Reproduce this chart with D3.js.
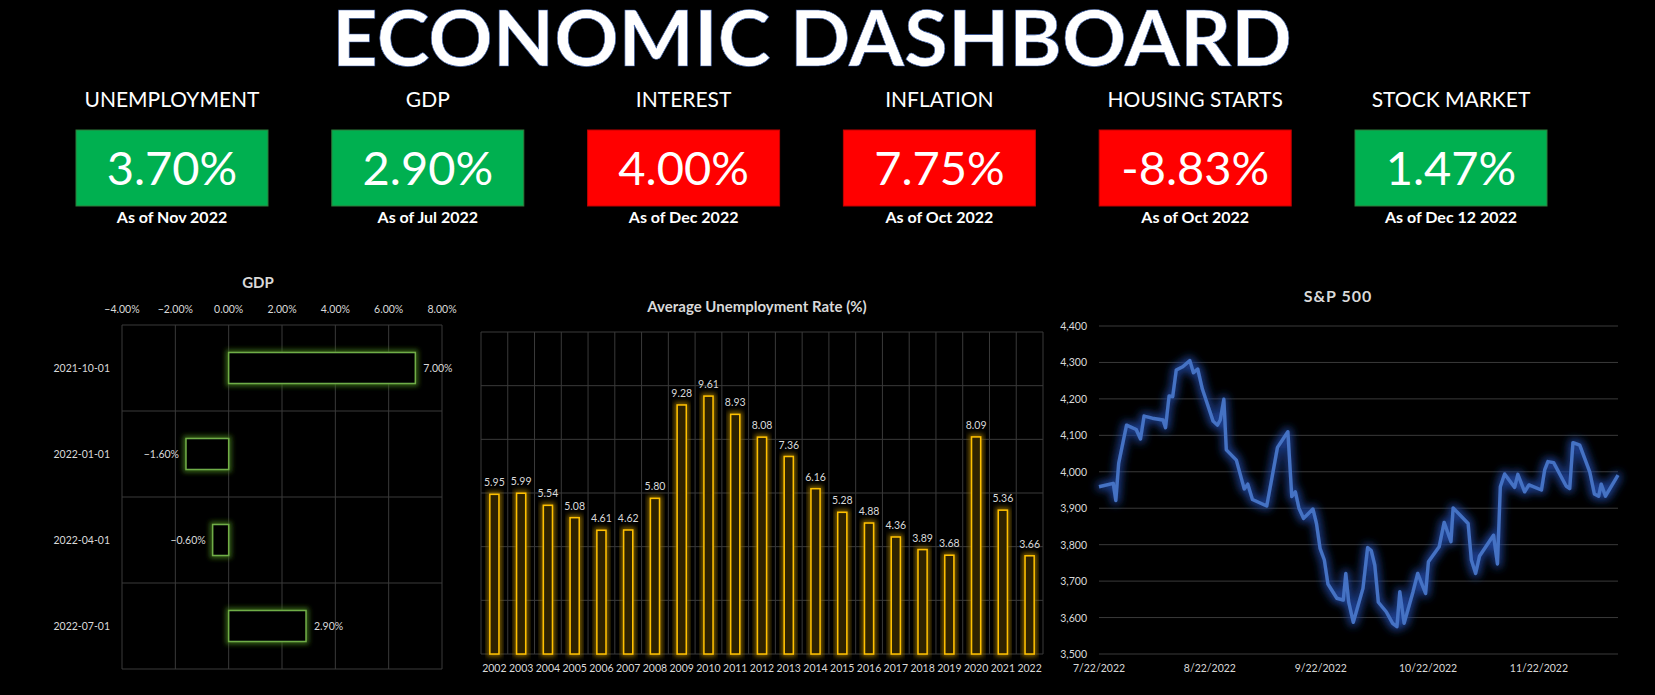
<!DOCTYPE html>
<html>
<head>
<meta charset="utf-8">
<script src="https://cdn.jsdelivr.net/npm/d3@7"></script>
<style>
  body { margin: 0; background: #000; }
  text { font-family: Lato, "Open Sans", sans-serif; }
</style>
</head>
<body>
<svg id="dash" width="1655" height="695"></svg>
<script>
// KPI cards
const kpiLabels = ["UNEMPLOYMENT", "GDP", "INTEREST", "INFLATION", "HOUSING STARTS", "STOCK MARKET"];
const kpiValues = ["3.70%", "2.90%", "4.00%", "7.75%", "-8.83%", "1.47%"];
const kpiGood = [true, true, false, false, false, true];
const kpiAsOf = ["As of Nov 2022", "As of Jul 2022", "As of Dec 2022", "As of Oct 2022", "As of Oct 2022", "As of Dec 12 2022"];

// GDP quarterly growth
const gdpQuarters = ["2021-10-01", "2022-01-01", "2022-04-01", "2022-07-01"];
const gdpValues = [7.0, -1.6, -0.6, 2.9];
const gdpTicks = [-4, -2, 0, 2, 4, 6, 8];

// Average unemployment rate
const unempYears = ["2002","2003","2004","2005","2006","2007","2008","2009","2010","2011","2012","2013","2014","2015","2016","2017","2018","2019","2020","2021","2022"];
const unempValues = [5.95,5.99,5.54,5.08,4.61,4.62,5.80,9.28,9.61,8.93,8.08,7.36,6.16,5.28,4.88,4.36,3.89,3.68,8.09,5.36,3.66];

// S&P 500: days after 7/22/2022 and close
const spDays = [0,4,4.7,5.5,7.7,10.4,11.6,12.6,14.9,17.9,18.6,19.6,20.6,21.6,23.4,25.4,26.4,27.6,28.9,31.9,33.1,33.9,34.9,35.6,38.4,40.6,41.6,42.9,46.9,48.4,49.9,52.8,53.9,54.9,55.9,57.2,59.8,60.8,61.8,63.0,64.0,66.5,68.3,69.0,69.8,71.1,73.8,75.1,76.1,77.1,78.1,80.3,82.1,83.3,84.1,85.3,87.8,89.1,91.3,92.1,95.1,96.5,98.4,99.0,103.2,104.1,105.3,106.4,110.3,111.4,112.2,113.4,116.2,117.1,119.0,120.2,123.7,124.6,125.5,127.1,130.6,131.6,132.5,134.4,137.2,138.5,139.7,140.4,141.6,145.1];
const spValues = [3959,3968,3921,4023,4128,4116,4090,4153,4147,4142,4121,4208,4206,4279,4288,4305,4272,4282,4227,4139,4128,4142,4199,4060,4032,3953,3966,3924,3906,3986,4067,4110,3932,3945,3900,3872,3898,3858,3790,3758,3692,3653,3648,3721,3643,3587,3680,3792,3784,3744,3642,3616,3584,3575,3671,3584,3671,3721,3666,3753,3794,3861,3808,3901,3858,3758,3721,3769,3826,3747,3959,3994,3957,3993,3945,3964,3950,4005,4028,4025,3961,3954,4080,4073,4000,3939,3933,3966,3933,3991];
const spTickDates = ["2022-07-22", "2022-08-22", "2022-09-22", "2022-10-22", "2022-11-22"];

const svg = d3.select("#dash");
const gridColor = "#3a3a3a";
const axisText = "#d9d9d9";

// glow filters
const defs = svg.append("defs");
function glow(id, color, sd, op) {
  const f = defs.append("filter").attr("id", id).attr("x", "-50%").attr("y", "-50%").attr("width", "200%").attr("height", "200%");
  f.append("feMorphology").attr("in", "SourceAlpha").attr("operator", "dilate").attr("radius", 1.5).attr("result", "d");
  f.append("feGaussianBlur").attr("in", "d").attr("stdDeviation", sd).attr("result", "b");
  f.append("feFlood").attr("flood-color", color).attr("flood-opacity", op);
  f.append("feComposite").attr("in2", "b").attr("operator", "in").attr("result", "g");
  const m = f.append("feMerge");
  m.append("feMergeNode").attr("in", "g");
  m.append("feMergeNode").attr("in", "SourceGraphic");
}
glow("glowGreen", "#3c6e1a", 2.5, 0.9);
glow("glowYellow", "#8a6800", 2.5, 0.9);
glow("glowBlue", "#1e4296", 4, 1);

// Title
svg.append("text")
  .attr("x", 812).attr("y", 66)
  .attr("text-anchor", "middle")
  .attr("textLength", 960).attr("lengthAdjust", "spacingAndGlyphs")
  .style("font-size", "76px").style("font-weight", "bold")
  .style("fill", "#fff").style("stroke", "#3a5ea8").style("stroke-width", 0.6)
  .text("ECONOMIC DASHBOARD");

// KPI cards
const kpiX = d3.scalePoint().domain(kpiLabels).range([172, 1451]);
const cards = svg.append("g").selectAll("g").data(kpiLabels).enter().append("g")
  .attr("transform", d => `translate(${kpiX(d)},0)`);
cards.append("text").attr("y", 107).attr("text-anchor", "middle")
  .style("font-size", "21px").style("fill", "#fff").text(d => d);
cards.append("rect").attr("x", -96).attr("y", 130).attr("width", 192).attr("height", 76)
  .attr("fill", (d, i) => kpiGood[i] ? "#00b050" : "#ff0000")
  .attr("stroke", (d, i) => kpiGood[i] ? "#2f7a3a" : "#c00000");
cards.append("text").attr("y", 185).attr("text-anchor", "middle")
  .style("font-size", "47px").style("fill", "#fff").text((d, i) => kpiValues[i]);
cards.append("text").attr("y", 223).attr("text-anchor", "middle")
  .style("font-size", "16px").style("font-weight", "bold").style("fill", "#fff").text((d, i) => kpiAsOf[i]);

// ---------- GDP bar chart ----------
{
  const left = 122, right = 442, top = 325, bottom = 669;
  const x = d3.scaleLinear().domain([-4, 8]).range([left, right]);
  const y = d3.scaleBand().domain(gdpQuarters).range([top, bottom]).paddingInner(0.64).paddingOuter(0.32);
  const yb = d3.scaleBand().domain(gdpQuarters).range([top, bottom]);
  const g = svg.append("g");
  g.append("text").attr("x", 258).attr("y", 288).attr("text-anchor", "middle")
    .style("font-size", "15px").style("font-weight", "bold").style("fill", axisText).text("GDP");
  g.selectAll(".vg").data(gdpTicks).enter().append("line")
    .attr("x1", d => x(d)).attr("x2", d => x(d)).attr("y1", top).attr("y2", bottom).attr("stroke", gridColor);
  g.selectAll(".hg").data(gdpQuarters).enter().append("line")
    .attr("x1", left).attr("x2", right).attr("y1", d => yb(d)).attr("y2", d => yb(d)).attr("stroke", gridColor);
  g.append("line").attr("x1", left).attr("x2", right).attr("y1", bottom).attr("y2", bottom).attr("stroke", gridColor);
  g.selectAll(".xt").data(gdpTicks).enter().append("text")
    .attr("x", d => x(d)).attr("y", 313).attr("text-anchor", "middle")
    .style("font-size", "10.5px").style("fill", axisText).text(d => d3.format(".2f")(d) + "%");
  g.selectAll(".yt").data(gdpQuarters).enter().append("text")
    .attr("x", 110).attr("y", d => yb(d) + yb.bandwidth() / 2 + 4).attr("text-anchor", "end")
    .style("font-size", "10.5px").style("fill", axisText).text(d => d);
  g.selectAll(".bar").data(gdpQuarters).enter().append("rect")
    .attr("x", (d, i) => x(Math.min(0, gdpValues[i])))
    .attr("width", (d, i) => Math.abs(x(gdpValues[i]) - x(0)))
    .attr("y", d => y(d)).attr("height", y.bandwidth())
    .attr("fill", "#000").attr("stroke", "#70ad47").attr("stroke-width", 1.5)
    .attr("filter", "url(#glowGreen)");
  g.selectAll(".lbl").data(gdpQuarters).enter().append("text")
    .attr("x", (d, i) => gdpValues[i] >= 0 ? x(gdpValues[i]) + 8 : x(gdpValues[i]) - 7)
    .attr("y", d => y(d) + y.bandwidth() / 2 + 4)
    .attr("text-anchor", (d, i) => gdpValues[i] >= 0 ? "start" : "end")
    .style("font-size", "10.5px").style("fill", axisText)
    .text((d, i) => d3.format(".2f")(gdpValues[i]) + "%");
}

// ---------- Unemployment column chart ----------
{
  const left = 481, right = 1043, top = 332, bottom = 654;
  const x = d3.scaleBand().domain(unempYears).range([left, right]);
  const xb = d3.scaleBand().domain(unempYears).range([left, right]).paddingInner(0.66).paddingOuter(0.33);
  const y = d3.scaleLinear().domain([0, 12]).range([bottom, top]);
  const g = svg.append("g");
  g.append("text").attr("x", 757).attr("y", 312).attr("text-anchor", "middle")
    .style("font-size", "15px").style("font-weight", "bold").style("fill", axisText).text("Average Unemployment Rate (%)");
  g.selectAll(".hg").data(y.ticks(6)).enter().append("line")
    .attr("x1", left).attr("x2", right).attr("y1", d => y(d)).attr("y2", d => y(d)).attr("stroke", gridColor);
  g.selectAll(".vg").data(unempYears).enter().append("line")
    .attr("x1", d => x(d)).attr("x2", d => x(d)).attr("y1", top).attr("y2", bottom).attr("stroke", gridColor);
  g.append("line").attr("x1", right).attr("x2", right).attr("y1", top).attr("y2", bottom).attr("stroke", gridColor);
  g.selectAll(".bar").data(unempYears).enter().append("rect")
    .attr("x", d => xb(d)).attr("width", xb.bandwidth())
    .attr("y", (d, i) => y(unempValues[i])).attr("height", (d, i) => bottom - y(unempValues[i]))
    .attr("fill", "#2e2400").attr("stroke", "#ffc000").attr("stroke-width", 1.5)
    .attr("filter", "url(#glowYellow)");
  g.selectAll(".lbl").data(unempYears).enter().append("text")
    .attr("x", d => x(d) + x.bandwidth() / 2).attr("y", (d, i) => y(unempValues[i]) - 8)
    .attr("text-anchor", "middle").style("font-size", "10.5px").style("fill", axisText)
    .text((d, i) => unempValues[i].toFixed(2));
  g.selectAll(".xt").data(unempYears).enter().append("text")
    .attr("x", d => x(d) + x.bandwidth() / 2).attr("y", 672)
    .attr("text-anchor", "middle").style("font-size", "10.5px").style("fill", axisText).text(d => d);
}

// ---------- S&P 500 line chart ----------
{
  const left = 1099, right = 1618, top = 326, bottom = 654;
  const start = new Date(2022, 6, 22);
  const toDate = d => new Date(start.getTime() + d * 864e5);
  const x = d3.scaleTime().domain([start, toDate(145.1)]).range([left, right]);
  const y = d3.scaleLinear().domain([3500, 4400]).range([bottom, top]);
  const g = svg.append("g");
  g.append("text").attr("x", 1338).attr("y", 302).attr("text-anchor", "middle")
    .style("font-size", "16px").style("font-weight", "bold").style("letter-spacing", "1px")
    .style("fill", axisText).text("S&P 500");
  const yt = d3.range(3500, 4401, 100);
  g.selectAll(".hg").data(yt).enter().append("line")
    .attr("x1", left).attr("x2", right).attr("y1", d => y(d)).attr("y2", d => y(d)).attr("stroke", gridColor);
  g.selectAll(".ytl").data(yt).enter().append("text")
    .attr("x", left - 12).attr("y", d => y(d) + 4).attr("text-anchor", "end")
    .style("font-size", "10.5px").style("fill", axisText).text(d => d3.format(",")(d));
  const parse = d3.timeParse("%Y-%m-%d");
  g.selectAll(".xtl").data(spTickDates).enter().append("text")
    .attr("x", d => x(parse(d))).attr("y", 672).attr("text-anchor", "middle")
    .style("font-size", "10.5px").style("fill", axisText).text(d => d3.timeFormat("%-m/%-d/%Y")(parse(d)));
  const line = d3.line().x((d, i) => x(toDate(spDays[i]))).y(d => y(d));
  g.append("path").datum(spValues).attr("d", line)
    .attr("fill", "none").attr("stroke", "#4472c4").attr("stroke-width", 3.4)
    .attr("stroke-linejoin", "round").attr("filter", "url(#glowBlue)");
}
</script>
</body>
</html>
